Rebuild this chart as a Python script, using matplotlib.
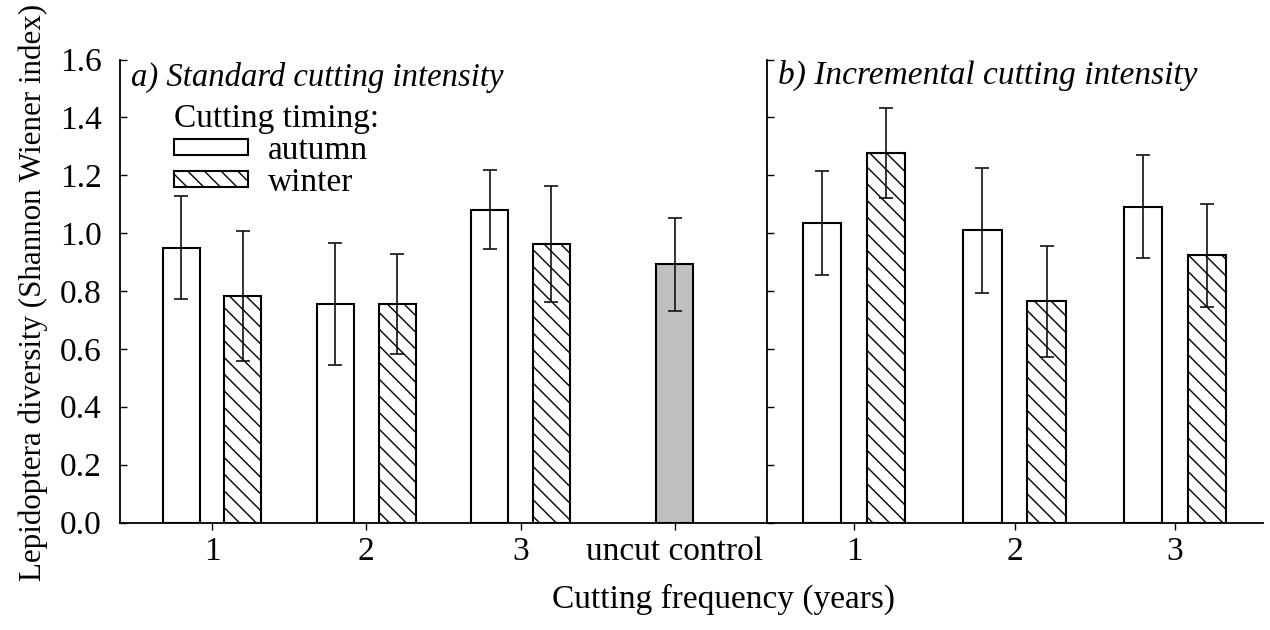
import matplotlib
matplotlib.use("Agg")
import matplotlib.pyplot as plt
import numpy as np

plt.rcParams["font.family"] = ["Liberation Serif", "DejaVu Serif"]
plt.rcParams["hatch.linewidth"] = 1.0

# panel a) standard cutting intensity
freq_a = ["1", "2", "3"]
autumn_a = [0.950, 0.755, 1.081]
autumn_a_err = [0.177, 0.211, 0.136]
winter_a = [0.783, 0.755, 0.963]
winter_a_err = [0.225, 0.173, 0.200]
uncut_label = "uncut control"
uncut_val = 0.892
uncut_err = 0.160

# panel b) incremental cutting intensity
freq_b = ["1", "2", "3"]
autumn_b = [1.036, 1.010, 1.092]
autumn_b_err = [0.180, 0.216, 0.178]
winter_b = [1.276, 0.764, 0.923]
winter_b_err = [0.155, 0.193, 0.177]

FS = 24
W = 0.24
OFF = 0.2
HATCH = "\\\\"
err_kw = dict(ecolor="#111111", elinewidth=1.2, capsize=4.7, capthick=1.2)
bar_kw = dict(edgecolor="black", linewidth=1.5, zorder=2)

fig = plt.figure(figsize=(12.7, 6.3), dpi=100)
ax_a = fig.add_axes([120 / 1270, 1 - 522.5 / 630, 647 / 1270, 463 / 630])
ax_b = fig.add_axes([767 / 1270, 1 - 522.5 / 630, 496 / 1270, 463 / 630])

xa = np.arange(len(freq_a))
h_aut = ax_a.bar(xa - OFF, autumn_a, W, color="white", label="autumn", **bar_kw)
h_win = ax_a.bar(xa + OFF, winter_a, W, color="white", hatch=HATCH, label="winter", **bar_kw)
ax_a.errorbar(xa - OFF, autumn_a, yerr=autumn_a_err, fmt="none", zorder=3, **err_kw)
ax_a.errorbar(xa + OFF, winter_a, yerr=winter_a_err, fmt="none", zorder=3, **err_kw)
ax_a.bar([len(freq_a)], [uncut_val], W, color="#c0c0c0", **bar_kw)
ax_a.errorbar([len(freq_a)], [uncut_val], yerr=[uncut_err], fmt="none", zorder=3, **err_kw)

xb = np.arange(len(freq_b))
ax_b.bar(xb - OFF, autumn_b, W, color="white", **bar_kw)
ax_b.bar(xb + OFF, winter_b, W, color="white", hatch=HATCH, **bar_kw)
ax_b.errorbar(xb - OFF, autumn_b, yerr=autumn_b_err, fmt="none", zorder=3, **err_kw)
ax_b.errorbar(xb + OFF, winter_b, yerr=winter_b_err, fmt="none", zorder=3, **err_kw)

ax_a.set_xlim(-0.596, 3.597)
ax_b.set_xlim(-0.542, 2.548)
ax_a.set_xticks(list(xa) + [len(freq_a)])
ax_a.set_xticklabels(freq_a + [uncut_label])
ax_b.set_xticks(xb)
ax_b.set_xticklabels(freq_b)

yt = np.arange(0, 1.61, 0.2)
for ax in (ax_a, ax_b):
    ax.set_ylim(0, 1.6)
    ax.set_yticks(yt)
    for s in ("top", "right"):
        ax.spines[s].set_visible(False)
    ax.spines["left"].set_linewidth(1.3)
    ax.spines["bottom"].set_linewidth(1.3)
    ax.tick_params(axis="y", direction="in", length=5, width=1, pad=13, labelsize=FS)
    ax.tick_params(axis="x", direction="out", length=5, width=1, pad=5, labelsize=FS)

ax_a.set_yticklabels([f"{v:.1f}" for v in yt])
ax_b.set_yticklabels([])

ax_a.text(0.017, 0.943, "a) Standard cutting intensity", transform=ax_a.transAxes,
          fontsize=23.5, style="italic", va="baseline")
ax_b.text(0.022, 0.947, "b) Incremental cutting intensity", transform=ax_b.transAxes,
          fontsize=FS, style="italic", va="baseline")

leg = ax_a.legend(handles=[h_aut, h_win], title="Cutting timing:", loc="upper left",
                  bbox_to_anchor=(0.0835, 0.905), frameon=False, fontsize=FS,
                  title_fontsize=FS, alignment="left", borderpad=0, borderaxespad=0,
                  handlelength=2.22, handleheight=0.36, handletextpad=0.6,
                  labelspacing=0.05)

fig.text(724 / 1270, 1 - 608 / 630, "Cutting frequency (years)", fontsize=FS,
         ha="center", va="baseline")
fig.text(33 / 1270, 1 - 292 / 630, "Lepidoptera diversity (Shannon Wiener index)",
         fontsize=22.3, rotation=90, ha="center", va="center")

fig.savefig("out.png", dpi=100)
